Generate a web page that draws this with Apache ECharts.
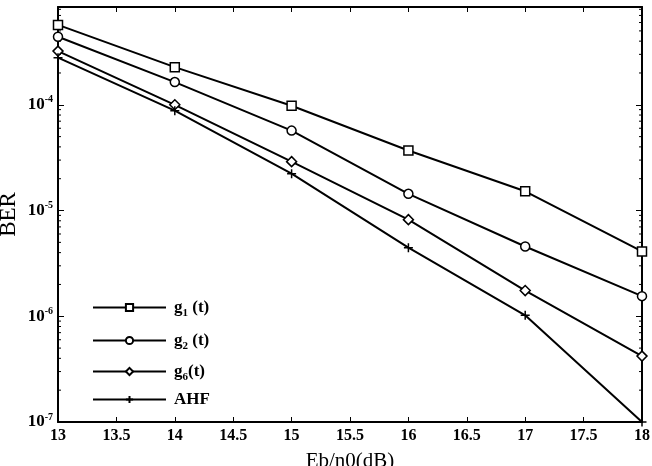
<!DOCTYPE html>
<html>
<head>
<meta charset="utf-8">
<script src="https://cdn.jsdelivr.net/npm/echarts@6/dist/echarts.min.js"></script>
<style>
  html, body { margin: 0; padding: 0; background: #fff; }
  #chart { width: 652px; height: 466px; }
</style>
</head>
<body>
<div id="chart"></div>
<script>
// Eb/n0 (dB)
var snr = [13, 14, 15, 16, 17, 18];
// BER values
var g1 = [5.7e-4, 2.27e-4, 9.8e-5, 3.7e-5, 1.52e-5, 4.1e-6];
var g2 = [4.4e-4, 1.64e-4, 5.7e-5, 1.44e-5, 4.57e-6, 1.55e-6];
var g6 = [3.22e-4, 1.0e-4, 2.9e-5, 8.2e-6, 1.75e-6, 4.2e-7];
var ahf = [2.79e-4, 8.8e-5, 2.23e-5, 4.45e-6, 1.02e-6, 1.0e-7];
var seriesNames = ["g1", "g2", "g6", "AHF"];
// decade exponents of the y axis
var yMinExp = -7;
var yMaxExp = -3.075;

var font = "Liberation Serif";

// axis is drawn in log10 space
function toExp(arr) {
  return arr.map(function (v, i) { return [snr[i], Math.log10(v)]; });
}

// minor ticks 2..9 x 10^n
var minorTicks = [];
for (var n = yMinExp; n < 0; n++) {
  for (var k = 2; k <= 9; k++) {
    var e = n + Math.log10(k);
    if (e < yMaxExp) minorTicks.push([13, e]);
  }
}

var chart = echarts.init(document.getElementById("chart"));

var legendLabel = {
  g1: "{b|g}{sub|1}{b| (t)}",
  g2: "{b|g}{sub|2}{b| (t)}",
  g6: "{b|g}{sub|6}{b|(t)}",
  AHF: "{b|AHF}"
};
var legendRich = {
  b: { fontFamily: font, fontWeight: "bold", fontSize: 17, color: "#000" },
  sub: { fontFamily: font, fontWeight: "bold", fontSize: 11, color: "#000", padding: [11, 0, 0, 0] }
};
var legendTops = [294, 327, 358, 386];

function makeLegend(name, i) {
  return {
    data: [name],
    left: 87,
    top: legendTops[i],
    itemWidth: 73,
    itemHeight: 9,
    formatter: function (n) { return legendLabel[n]; },
    textStyle: { padding: [0, 0, 0, 3], rich: legendRich }
  };
}

function lineSeries(name, data, symbol, size) {
  return {
    name: name,
    type: "line",
    data: toExp(data),
    symbol: symbol,
    symbolSize: size,
    showAllSymbol: true,
    lineStyle: { color: "#000", width: 2 },
    itemStyle: { color: "#fff", borderColor: "#000", borderWidth: 1.5 },
    emphasis: { disabled: true },
    z: 3
  };
}

chart.setOption({
  animation: false,
  color: ["#000"],
  legend: seriesNames.map(makeLegend),
  grid: { left: 58, right: 10, top: 7, bottom: 44, outerBoundsMode: "none" },
  xAxis: [
    {
      type: "value",
      min: 13,
      max: 18,
      interval: 0.5,
      name: "Eb/n0(dB)",
      nameLocation: "middle",
      nameGap: 29,
      nameTextStyle: { fontFamily: font, fontSize: 21, color: "#000", verticalAlign: "top" },
      axisLine: { lineStyle: { color: "#000", width: 2 } },
      axisTick: { inside: true, length: 5, lineStyle: { color: "#000" } },
      axisLabel: { fontFamily: font, fontWeight: "bold", fontSize: 16, color: "#000", margin: 6 },
      splitLine: { show: false }
    },
    {
      type: "value",
      position: "top",
      min: 13,
      max: 18,
      interval: 0.5,
      axisLine: { lineStyle: { color: "#000", width: 2 } },
      axisTick: { inside: true, length: 5, lineStyle: { color: "#000" } },
      axisLabel: { show: false },
      splitLine: { show: false }
    }
  ],
  yAxis: [
    {
      type: "value",
      min: yMinExp,
      max: yMaxExp,
      interval: 1,
      name: "BER",
      nameLocation: "middle",
      nameGap: 38,
      nameMoveOverlap: false,
      nameTextStyle: { fontFamily: font, fontSize: 23, color: "#000" },
      axisLine: { lineStyle: { color: "#000", width: 2 } },
      axisTick: { inside: true, length: 6, lineStyle: { color: "#000" } },
      axisLabel: {
        showMaxLabel: false,
        margin: 5,
        formatter: function (v) { return "{b|10}{s|" + v + "}"; },
        rich: {
          b: { fontFamily: font, fontWeight: "bold", fontSize: 17, color: "#000" },
          s: { fontFamily: font, fontWeight: "bold", fontSize: 10, color: "#000", padding: [0, 0, 10, 0] }
        }
      },
      splitLine: { show: false }
    },
    {
      type: "value",
      position: "right",
      min: yMinExp,
      max: yMaxExp,
      interval: 1,
      axisLine: { lineStyle: { color: "#000", width: 2 } },
      axisTick: { inside: true, length: 6, lineStyle: { color: "#000" } },
      axisLabel: { show: false },
      splitLine: { show: false }
    }
  ],
  series: [
    lineSeries("g1", g1, "rect", 9),
    lineSeries("g2", g2, "circle", 9),
    lineSeries("g6", g6, "diamond", 10),
    lineSeries("AHF", ahf, "path://M5,0V10M0,5H10", 9),
    {
      type: "custom",
      silent: true,
      data: minorTicks,
      renderItem: function (params, api) {
        var p = api.coord([13, api.value(1)]);
        var cs = params.coordSys;
        var len = 3;
        return {
          type: "group",
          children: [
            { type: "line", shape: { x1: cs.x, y1: p[1], x2: cs.x + len, y2: p[1] }, style: { stroke: "#000", lineWidth: 1 } },
            { type: "line", shape: { x1: cs.x + cs.width - len, y1: p[1], x2: cs.x + cs.width, y2: p[1] }, style: { stroke: "#000", lineWidth: 1 } }
          ]
        };
      }
    }
  ]
});
</script>
</body>
</html>
